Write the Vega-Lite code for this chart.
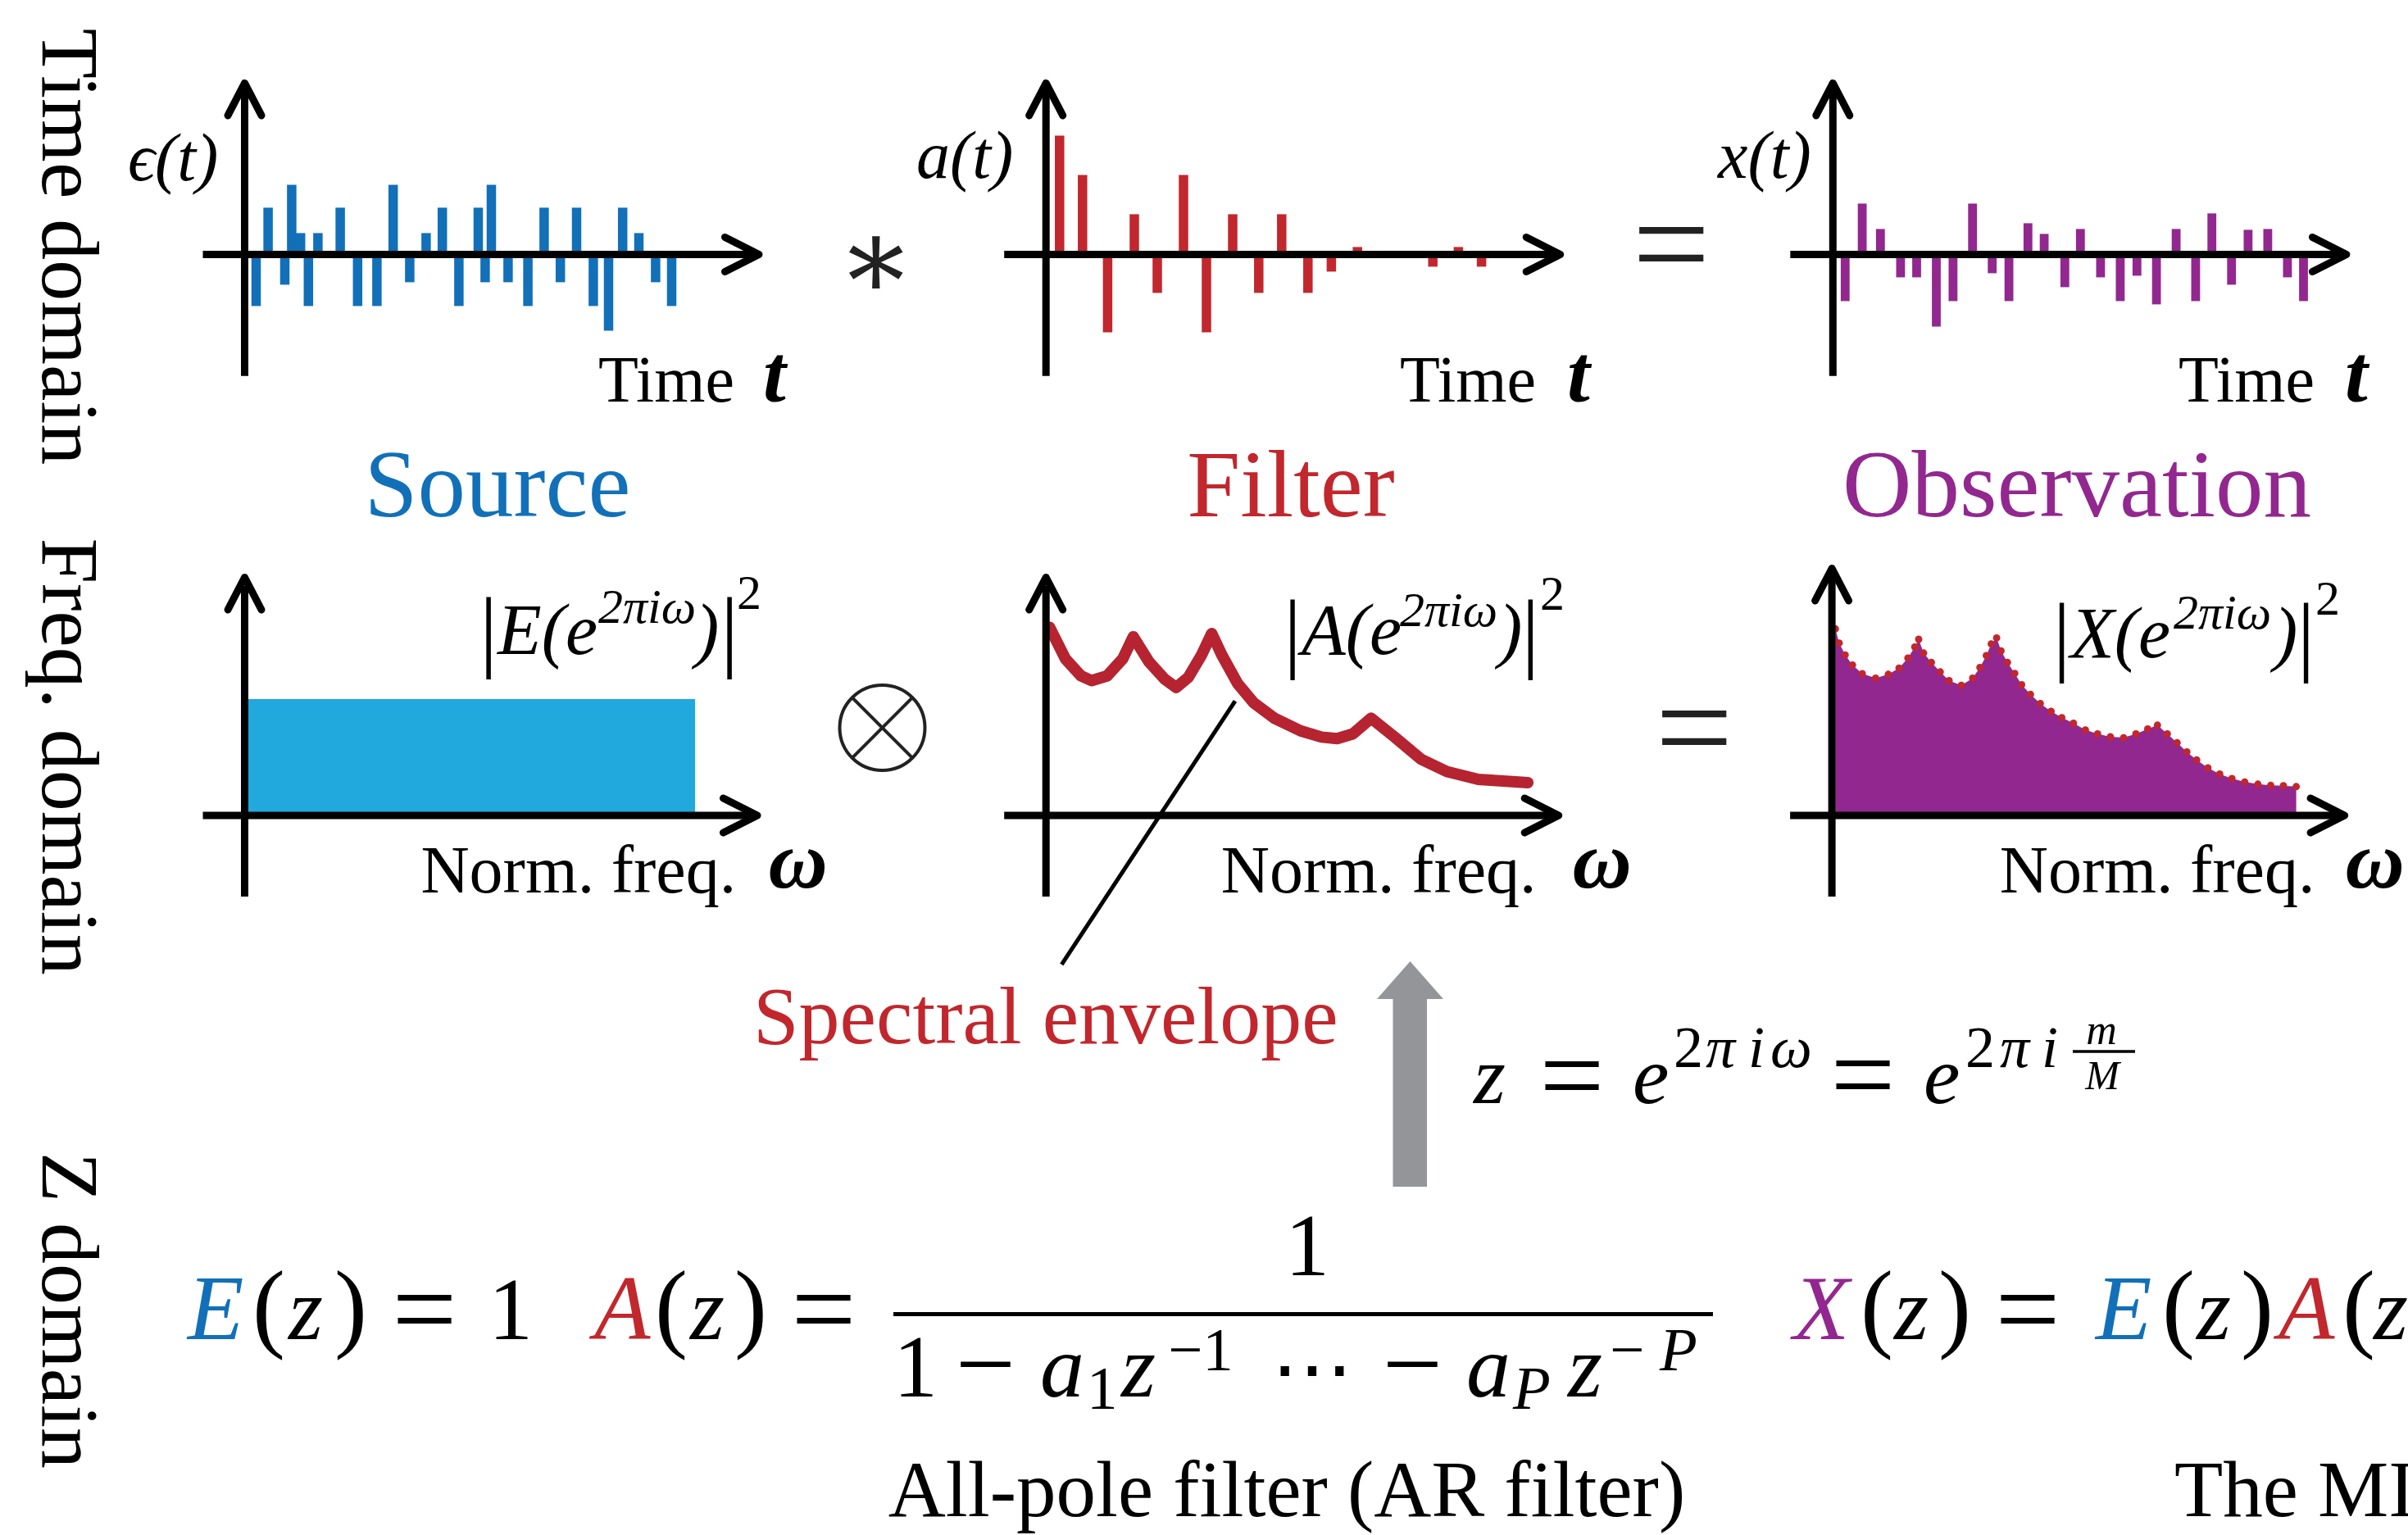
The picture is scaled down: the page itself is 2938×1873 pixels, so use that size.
{
"$schema":"https://vega.github.io/schema/vega-lite/v6.json",
"width":2938,"height":1873,"autosize":{"type":"none"},"padding":0,"background":"#ffffff",
"config":{"view":{"stroke":null},"axis":{"disable":true},"text":{"font":"Liberation Serif","baseline":"alphabetic","align":"left","color":"#000000"}},
"data":{"values":[{}]},
"datasets":{
"src":[{"t":0.7,"a":-0.63},{"t":1.43,"a":0.57},{"t":2.45,"a":-0.37},{"t":2.87,"a":0.85},{"t":3.41,"a":0.26},{"t":3.89,"a":-0.63},{"t":4.47,"a":0.26},{"t":5.83,"a":0.57},{"t":6.89,"a":-0.63},{"t":8.07,"a":-0.63},{"t":9.06,"a":0.85},{"t":10.07,"a":-0.34},{"t":11.07,"a":0.26},{"t":12.06,"a":0.57},{"t":13.07,"a":-0.63},{"t":14.25,"a":0.57},{"t":14.67,"a":-0.34},{"t":15.05,"a":0.85},{"t":16.07,"a":-0.34},{"t":17.28,"a":-0.63},{"t":18.27,"a":0.57},{"t":19.26,"a":-0.34},{"t":20.25,"a":0.57},{"t":21.27,"a":-0.63},{"t":22.2,"a":-0.93},{"t":23.06,"a":0.57},{"t":24.05,"a":0.26},{"t":25.07,"a":-0.34},{"t":26.05,"a":-0.63}],
"filt":[{"t":0.83,"a":1.45},{"t":2.23,"a":0.97},{"t":3.76,"a":-0.95},{"t":5.39,"a":0.49},{"t":6.79,"a":-0.47},{"t":8.39,"a":0.97},{"t":9.79,"a":-0.95},{"t":11.39,"a":0.49},{"t":12.98,"a":-0.47},{"t":14.38,"a":0.49},{"t":15.98,"a":-0.47},{"t":17.41,"a":-0.21},{"t":19.0,"a":0.09},{"t":23.6,"a":-0.15},{"t":25.16,"a":0.09},{"t":26.57,"a":-0.15}],
"obs":[{"t":0.75,"a":-0.57},{"t":1.79,"a":0.62},{"t":2.9,"a":0.31},{"t":4.13,"a":-0.28},{"t":5.11,"a":-0.28},{"t":6.31,"a":-0.88},{"t":7.33,"a":-0.57},{"t":8.52,"a":0.62},{"t":9.72,"a":-0.23},{"t":10.74,"a":-0.57},{"t":11.9,"a":0.38},{"t":12.89,"a":0.25},{"t":14.15,"a":-0.4},{"t":15.1,"a":0.31},{"t":16.33,"a":-0.28},{"t":17.53,"a":-0.57},{"t":18.55,"a":-0.26},{"t":19.74,"a":-0.61},{"t":20.94,"a":0.31},{"t":22.13,"a":-0.57},{"t":23.12,"a":0.5},{"t":24.32,"a":-0.37},{"t":25.33,"a":0.3},{"t":26.53,"a":0.31},{"t":27.73,"a":-0.28},{"t":28.71,"a":-0.57}],
"srcSpec":[{"w":0,"p":1.42},{"w":0.916,"p":1.42}],
"env":[{"w":0.0073,"p":2.296},{"w":0.0393,"p":1.913},{"w":0.0712,"p":1.703},{"w":0.0925,"p":1.645},{"w":0.1243,"p":1.703},{"w":0.1562,"p":1.913},{"w":0.1775,"p":2.181},{"w":0.2093,"p":1.875},{"w":0.2413,"p":1.664},{"w":0.2647,"p":1.561},{"w":0.2892,"p":1.683},{"w":0.3157,"p":1.951},{"w":0.337,"p":2.219},{"w":0.3582,"p":1.951},{"w":0.39,"p":1.607},{"w":0.422,"p":1.377},{"w":0.4645,"p":1.186},{"w":0.5177,"p":1.033},{"w":0.5602,"p":0.956},{"w":0.592,"p":0.937},{"w":0.624,"p":0.995},{"w":0.6612,"p":1.186},{"w":0.709,"p":0.956},{"w":0.7622,"p":0.688},{"w":0.8153,"p":0.535},{"w":0.879,"p":0.44},{"w":0.98,"p":0.401}],
"obsSpec":[{"w":0.007,"p":2.277},{"w":0.0148,"p":2.104},{"w":0.027,"p":1.959},{"w":0.0418,"p":1.836},{"w":0.0618,"p":1.73},{"w":0.0887,"p":1.676},{"w":0.1147,"p":1.722},{"w":0.1365,"p":1.798},{"w":0.1545,"p":1.921},{"w":0.1685,"p":2.055},{"w":0.1765,"p":2.15},{"w":0.1865,"p":1.982},{"w":0.2023,"p":1.867},{"w":0.2203,"p":1.752},{"w":0.2383,"p":1.645},{"w":0.2632,"p":1.588},{"w":0.2862,"p":1.676},{"w":0.301,"p":1.806},{"w":0.314,"p":1.951},{"w":0.324,"p":2.093},{"w":0.335,"p":2.166},{"w":0.344,"p":2.009},{"w":0.357,"p":1.867},{"w":0.3718,"p":1.733},{"w":0.3858,"p":1.595},{"w":0.4038,"p":1.477},{"w":0.4237,"p":1.366},{"w":0.4457,"p":1.27},{"w":0.4675,"p":1.194},{"w":0.4912,"p":1.125},{"w":0.5155,"p":1.044},{"w":0.5403,"p":0.995},{"w":0.5663,"p":0.96},{"w":0.5932,"p":0.949},{"w":0.6182,"p":0.995},{"w":0.6422,"p":1.056},{"w":0.662,"p":1.102},{"w":0.682,"p":0.995},{"w":0.702,"p":0.887},{"w":0.7218,"p":0.776},{"w":0.7418,"p":0.677},{"w":0.7647,"p":0.581},{"w":0.7887,"p":0.505},{"w":0.8135,"p":0.451},{"w":0.8395,"p":0.409},{"w":0.8663,"p":0.382},{"w":0.8923,"p":0.367},{"w":0.9182,"p":0.363},{"w":0.9442,"p":0.352}]
},
"resolve":{"scale":{"x":"independent","y":"independent","size":"independent"}},
"layer":[
{"layer":[
{"data":{"name":"src"},"mark":{"type":"rule","strokeWidth":11.5,"color":"#1170B8"},"encoding":{"x":{"field":"t","type":"quantitative","scale":{"domain":[-5,35],"range":[198.5,998.5],"nice":false,"zero":false}},"y":{"field":"a","type":"quantitative","scale":{"domain":[-2,3],"range":[510.4,10.4],"nice":false,"zero":false}},"y2":{"datum":0}}},
{"mark":{"type":"rule","strokeWidth":9,"color":"#000"},"encoding":{"x":{"datum":-2.55},"x2":{"datum":31.2},"y":{"datum":0}}},
{"mark":{"type":"rule","strokeWidth":9,"color":"#000"},"encoding":{"x":{"datum":0},"y":{"datum":-1.483},"y2":{"datum":2.0}}},
{"mark":{"type":"point","shape":"M-1,-0.506L0,0L-1,0.506","size":6889,"filled":false,"color":"#000","strokeWidth":9,"strokeJoin":"round","strokeCap":"round","opacity":1},"encoding":{"x":{"datum":31.375},"y":{"datum":0}}},
{"mark":{"type":"point","shape":"M-0.494,0.952L0,0L0.494,0.952","size":6889,"filled":false,"color":"#000","strokeWidth":9,"strokeJoin":"round","strokeCap":"round","opacity":1},"encoding":{"x":{"datum":0},"y":{"datum":2.09}}}
]},
{"layer":[
{"data":{"name":"filt"},"mark":{"type":"rule","strokeWidth":11.5,"color":"#C1272D"},"encoding":{"x":{"field":"t","type":"quantitative","scale":{"domain":[-5,35],"range":[1176.2,1976.2],"nice":false,"zero":false}},"y":{"field":"a","type":"quantitative","scale":{"domain":[-2,3],"range":[510.4,10.4],"nice":false,"zero":false}},"y2":{"datum":0}}},
{"mark":{"type":"rule","strokeWidth":9,"color":"#000"},"encoding":{"x":{"datum":-2.55},"x2":{"datum":31.2},"y":{"datum":0}}},
{"mark":{"type":"rule","strokeWidth":9,"color":"#000"},"encoding":{"x":{"datum":0},"y":{"datum":-1.483},"y2":{"datum":2.0}}},
{"mark":{"type":"point","shape":"M-1,-0.506L0,0L-1,0.506","size":6889,"filled":false,"color":"#000","strokeWidth":9,"strokeJoin":"round","strokeCap":"round","opacity":1},"encoding":{"x":{"datum":31.375},"y":{"datum":0}}},
{"mark":{"type":"point","shape":"M-0.494,0.952L0,0L0.494,0.952","size":6889,"filled":false,"color":"#000","strokeWidth":9,"strokeJoin":"round","strokeCap":"round","opacity":1},"encoding":{"x":{"datum":0},"y":{"datum":2.09}}}
]},
{"layer":[
{"data":{"name":"obs"},"mark":{"type":"rule","strokeWidth":10.8,"color":"#92278F"},"encoding":{"x":{"field":"t","type":"quantitative","scale":{"domain":[-5,35],"range":[2136.3,2936.3],"nice":false,"zero":false}},"y":{"field":"a","type":"quantitative","scale":{"domain":[-2,3],"range":[510.4,10.4],"nice":false,"zero":false}},"y2":{"datum":0}}},
{"mark":{"type":"rule","strokeWidth":9,"color":"#000"},"encoding":{"x":{"datum":-2.6},"x2":{"datum":31.2},"y":{"datum":0}}},
{"mark":{"type":"rule","strokeWidth":9,"color":"#000"},"encoding":{"x":{"datum":0},"y":{"datum":-1.483},"y2":{"datum":2.0}}},
{"mark":{"type":"point","shape":"M-1,-0.506L0,0L-1,0.506","size":6889,"filled":false,"color":"#000","strokeWidth":9,"strokeJoin":"round","strokeCap":"round","opacity":1},"encoding":{"x":{"datum":31.33},"y":{"datum":0}}},
{"mark":{"type":"point","shape":"M-0.494,0.952L0,0L0.494,0.952","size":6889,"filled":false,"color":"#000","strokeWidth":9,"strokeJoin":"round","strokeCap":"round","opacity":1},"encoding":{"x":{"datum":0},"y":{"datum":2.09}}}
]},
{"layer":[
{"data":{"name":"srcSpec"},"mark":{"type":"area","color":"#21A8DD","opacity":1},"encoding":{"x":{"field":"w","type":"quantitative","scale":{"domain":[-0.5,1.5],"range":[-1.5,1198.5],"nice":false,"zero":false}},"y":{"field":"p","type":"quantitative","scale":{"domain":[-2,4],"range":[1195,595],"nice":false,"zero":false}},"y2":{"datum":0}}},
{"mark":{"type":"rule","strokeWidth":9,"color":"#000"},"encoding":{"x":{"datum":-0.085},"x2":{"datum":1.035},"y":{"datum":0}}},
{"mark":{"type":"rule","strokeWidth":9,"color":"#000"},"encoding":{"x":{"datum":0},"y":{"datum":-0.99},"y2":{"datum":2.8}}},
{"mark":{"type":"point","shape":"M-1,-0.506L0,0L-1,0.506","size":6889,"filled":false,"color":"#000","strokeWidth":9,"strokeJoin":"round","strokeCap":"round","opacity":1},"encoding":{"x":{"datum":1.0425},"y":{"datum":0}}},
{"mark":{"type":"point","shape":"M-0.494,0.952L0,0L0.494,0.952","size":6889,"filled":false,"color":"#000","strokeWidth":9,"strokeJoin":"round","strokeCap":"round","opacity":1},"encoding":{"x":{"datum":0},"y":{"datum":2.905}}}
]},
{"layer":[
{"data":{"name":"env"},"mark":{"type":"line","color":"#B52430","strokeWidth":14,"strokeCap":"round","strokeJoin":"round"},"encoding":{"x":{"field":"w","type":"quantitative","scale":{"domain":[-0.5,1.5],"range":[976.2,2176.2],"nice":false,"zero":false}},"y":{"field":"p","type":"quantitative","scale":{"domain":[-2,4],"range":[1195,595],"nice":false,"zero":false}},"size":{"value":14}}},
{"mark":{"type":"rule","strokeWidth":9,"color":"#000"},"encoding":{"x":{"datum":-0.085},"x2":{"datum":1.035},"y":{"datum":0}}},
{"mark":{"type":"rule","strokeWidth":9,"color":"#000"},"encoding":{"x":{"datum":0},"y":{"datum":-0.99},"y2":{"datum":2.8}}},
{"mark":{"type":"point","shape":"M-1,-0.506L0,0L-1,0.506","size":6889,"filled":false,"color":"#000","strokeWidth":9,"strokeJoin":"round","strokeCap":"round","opacity":1},"encoding":{"x":{"datum":1.0425},"y":{"datum":0}}},
{"mark":{"type":"point","shape":"M-0.494,0.952L0,0L0.494,0.952","size":6889,"filled":false,"color":"#000","strokeWidth":9,"strokeJoin":"round","strokeCap":"round","opacity":1},"encoding":{"x":{"datum":0},"y":{"datum":2.905}}}
]},
{"layer":[
{"data":{"name":"obsSpec"},"mark":{"type":"area","color":"#92278F","opacity":1},"encoding":{"x":{"field":"w","type":"quantitative","scale":{"domain":[-0.5,1.5],"range":[1935.1,3135.1],"nice":false,"zero":false}},"y":{"field":"p","type":"quantitative","scale":{"domain":[-2,4],"range":[1195,595],"nice":false,"zero":false}},"y2":{"datum":0}}},
{"data":{"name":"obsSpec"},"mark":{"type":"point","shape":"circle","size":80,"filled":true,"color":"#C1272D","opacity":1},"encoding":{"x":{"field":"w","type":"quantitative"},"y":{"field":"p","type":"quantitative"}}},
{"mark":{"type":"rule","strokeWidth":9,"color":"#000"},"encoding":{"x":{"datum":-0.085},"x2":{"datum":1.035},"y":{"datum":0}}},
{"mark":{"type":"rule","strokeWidth":9,"color":"#000"},"encoding":{"x":{"datum":0},"y":{"datum":-0.99},"y2":{"datum":2.92}}},
{"mark":{"type":"point","shape":"M-1,-0.506L0,0L-1,0.506","size":6889,"filled":false,"color":"#000","strokeWidth":9,"strokeJoin":"round","strokeCap":"round","opacity":1},"encoding":{"x":{"datum":1.0425},"y":{"datum":0}}},
{"mark":{"type":"point","shape":"M-0.494,0.952L0,0L0.494,0.952","size":6889,"filled":false,"color":"#000","strokeWidth":9,"strokeJoin":"round","strokeCap":"round","opacity":1},"encoding":{"x":{"datum":0},"y":{"datum":3.015}}}
]},
{"layer":[
{"mark":{"type":"text","text":"Time domain","fontSize":100,"align":"center","angle":90},"encoding":{"x":{"datum":52,"type":"quantitative","scale":{"domain":[0,2938],"range":[0,2938],"nice":false,"zero":false}},"y":{"datum":301,"type":"quantitative","scale":{"domain":[0,1873],"range":[0,1873],"nice":false,"zero":false}}}},
{"mark":{"type":"text","text":"Freq. domain","fontSize":100,"align":"center","angle":90},"encoding":{"x":{"datum":52},"y":{"datum":923}}},
{"mark":{"type":"text","text":"Z domain","fontSize":100,"align":"center","angle":90},"encoding":{"x":{"datum":52},"y":{"datum":1599}}},
{"mark":{"type":"text","text":"ϵ(t)","fontSize":82,"fontStyle":"italic"},"encoding":{"x":{"datum":156},"y":{"datum":220}}},
{"mark":{"type":"text","text":"a(t)","fontSize":82,"fontStyle":"italic"},"encoding":{"x":{"datum":1118},"y":{"datum":217}}},
{"mark":{"type":"text","text":"x(t)","fontSize":82,"fontStyle":"italic"},"encoding":{"x":{"datum":2096},"y":{"datum":217}}},
{"mark":{"type":"text","text":"Time","fontSize":80},"encoding":{"x":{"datum":730},"y":{"datum":490}}},
{"mark":{"type":"text","text":"Time","fontSize":80},"encoding":{"x":{"datum":1708},"y":{"datum":490}}},
{"mark":{"type":"text","text":"Time","fontSize":80},"encoding":{"x":{"datum":2658},"y":{"datum":490}}},
{"mark":{"type":"text","text":"t","fontSize":100,"fontStyle":"italic","fontWeight":"bold"},"encoding":{"x":{"datum":931},"y":{"datum":490}}},
{"mark":{"type":"text","text":"t","fontSize":100,"fontStyle":"italic","fontWeight":"bold"},"encoding":{"x":{"datum":1912},"y":{"datum":490}}},
{"mark":{"type":"text","text":"t","fontSize":100,"fontStyle":"italic","fontWeight":"bold"},"encoding":{"x":{"datum":2861},"y":{"datum":490}}},
{"mark":{"type":"text","text":"Source","fontSize":117,"align":"center","color":"#1170B8"},"encoding":{"x":{"datum":607},"y":{"datum":630}}},
{"mark":{"type":"text","text":"Filter","fontSize":117,"align":"center","color":"#C1272D"},"encoding":{"x":{"datum":1575},"y":{"datum":630}}},
{"mark":{"type":"text","text":"Observation","fontSize":117,"align":"center","color":"#92278F"},"encoding":{"x":{"datum":2534},"y":{"datum":630}}},
{"mark":{"type":"text","text":"∗","font":"DejaVu Serif","fontSize":140,"align":"center","color":"#222"},"encoding":{"x":{"datum":1068.5},"y":{"datum":364}}},
{"mark":{"type":"text","text":"=","fontSize":168,"align":"center","color":"#222"},"encoding":{"x":{"datum":2039},"y":{"datum":354}}},
{"mark":{"type":"text","text":"=","fontSize":168,"align":"center","color":"#222"},"encoding":{"x":{"datum":2067},"y":{"datum":944}}},
{"mark":{"type":"text","text":"|","fontSize":111,"align":"center"},"encoding":{"x":{"datum":596},"y":{"datum":805.6}}},
{"mark":{"type":"text","text":"E(e","fontSize":88,"fontStyle":"italic"},"encoding":{"x":{"datum":607},"y":{"datum":798}}},
{"mark":{"type":"text","text":"2πiω","fontSize":60,"fontStyle":"italic"},"encoding":{"x":{"datum":730},"y":{"datum":760}}},
{"mark":{"type":"text","text":")","fontSize":88,"fontStyle":"italic"},"encoding":{"x":{"datum":848},"y":{"datum":798}}},
{"mark":{"type":"text","text":"|","fontSize":111,"align":"center"},"encoding":{"x":{"datum":890},"y":{"datum":805.6}}},
{"mark":{"type":"text","text":"2","fontSize":60},"encoding":{"x":{"datum":899},"y":{"datum":742.5}}},
{"mark":{"type":"text","text":"|","fontSize":108,"align":"center"},"encoding":{"x":{"datum":1577},"y":{"datum":807}}},
{"mark":{"type":"text","text":"A(e","fontSize":88,"fontStyle":"italic"},"encoding":{"x":{"datum":1588},"y":{"datum":798}}},
{"mark":{"type":"text","text":"2πiω","fontSize":60,"fontStyle":"italic"},"encoding":{"x":{"datum":1708},"y":{"datum":763.5}}},
{"mark":{"type":"text","text":")","fontSize":88,"fontStyle":"italic"},"encoding":{"x":{"datum":1828},"y":{"datum":798}}},
{"mark":{"type":"text","text":"|","fontSize":108,"align":"center"},"encoding":{"x":{"datum":1867.4},"y":{"datum":807}}},
{"mark":{"type":"text","text":"2","fontSize":60},"encoding":{"x":{"datum":1879},"y":{"datum":744}}},
{"mark":{"type":"text","text":"|","fontSize":108,"align":"center"},"encoding":{"x":{"datum":2515.6},"y":{"datum":811}}},
{"mark":{"type":"text","text":"X(e","fontSize":88,"fontStyle":"italic"},"encoding":{"x":{"datum":2526},"y":{"datum":801.8}}},
{"mark":{"type":"text","text":"2πiω","fontSize":60,"fontStyle":"italic"},"encoding":{"x":{"datum":2652},"y":{"datum":767}}},
{"mark":{"type":"text","text":")","fontSize":88,"fontStyle":"italic"},"encoding":{"x":{"datum":2774},"y":{"datum":801.8}}},
{"mark":{"type":"text","text":"|","fontSize":108,"align":"center"},"encoding":{"x":{"datum":2813.5},"y":{"datum":811}}},
{"mark":{"type":"text","text":"2","fontSize":60},"encoding":{"x":{"datum":2825},"y":{"datum":750}}},
{"mark":{"type":"text","text":"Norm. freq.","fontSize":82},"encoding":{"x":{"datum":513.4},"y":{"datum":1089}}},
{"mark":{"type":"text","text":"Norm. freq.","fontSize":82},"encoding":{"x":{"datum":1489.8},"y":{"datum":1089}}},
{"mark":{"type":"text","text":"Norm. freq.","fontSize":82},"encoding":{"x":{"datum":2439.7},"y":{"datum":1089}}},
{"mark":{"type":"text","text":"ω","fontSize":100,"fontStyle":"italic","fontWeight":"bold"},"encoding":{"x":{"datum":937.6},"y":{"datum":1083}}},
{"mark":{"type":"text","text":"ω","fontSize":100,"fontStyle":"italic","fontWeight":"bold"},"encoding":{"x":{"datum":1918.4},"y":{"datum":1083}}},
{"mark":{"type":"text","text":"ω","fontSize":100,"fontStyle":"italic","fontWeight":"bold"},"encoding":{"x":{"datum":2861.4},"y":{"datum":1083}}},
{"mark":{"type":"rule","strokeWidth":5,"color":"#000"},"encoding":{"x":{"datum":1507},"y":{"datum":855.4},"x2":{"datum":1295.3},"y2":{"datum":1176.8}}},
{"mark":{"type":"point","shape":"circle","size":10816,"filled":false,"color":"#222","strokeWidth":4,"opacity":1},"encoding":{"x":{"datum":1076.5},"y":{"datum":888}}},
{"mark":{"type":"rule","strokeWidth":4,"color":"#222"},"encoding":{"x":{"datum":1039.7},"y":{"datum":851.2},"x2":{"datum":1113.3},"y2":{"datum":924.8}}},
{"mark":{"type":"rule","strokeWidth":4,"color":"#222"},"encoding":{"x":{"datum":1039.7},"y":{"datum":924.8},"x2":{"datum":1113.3},"y2":{"datum":851.2}}},
{"mark":{"type":"text","text":"Spectral envelope","fontSize":100,"color":"#C1272D"},"encoding":{"x":{"datum":919},"y":{"datum":1273}}},
{"mark":{"type":"rect","color":"#939598"},"encoding":{"x":{"datum":1699.5},"x2":{"datum":1741},"y":{"datum":1217},"y2":{"datum":1448}}},
{"mark":{"type":"point","shape":"M-1,0.568L0,-0.568L1,0.568Z","size":6561,"filled":true,"color":"#939598","opacity":1},"encoding":{"x":{"datum":1720.5},"y":{"datum":1196}}},
{"mark":{"type":"text","text":"z","fontSize":100,"fontStyle":"italic"},"encoding":{"x":{"datum":1798},"y":{"datum":1346}}},
{"mark":{"type":"text","text":"=","fontSize":140,"align":"center"},"encoding":{"x":{"datum":1918},"y":{"datum":1359}}},
{"mark":{"type":"text","text":"e","fontSize":100,"fontStyle":"italic"},"encoding":{"x":{"datum":1992},"y":{"datum":1346}}},
{"mark":{"type":"text","text":"2","fontSize":72},"encoding":{"x":{"datum":2042},"y":{"datum":1302}}},
{"mark":{"type":"text","text":"π","fontSize":72,"fontStyle":"italic"},"encoding":{"x":{"datum":2081},"y":{"datum":1302}}},
{"mark":{"type":"text","text":"i","fontSize":72,"fontStyle":"italic"},"encoding":{"x":{"datum":2133},"y":{"datum":1302}}},
{"mark":{"type":"text","text":"ω","fontSize":72,"fontStyle":"italic"},"encoding":{"x":{"datum":2160},"y":{"datum":1302}}},
{"mark":{"type":"text","text":"=","fontSize":140,"align":"center"},"encoding":{"x":{"datum":2273},"y":{"datum":1358}}},
{"mark":{"type":"text","text":"e","fontSize":100,"fontStyle":"italic"},"encoding":{"x":{"datum":2347},"y":{"datum":1346}}},
{"mark":{"type":"text","text":"2","fontSize":72},"encoding":{"x":{"datum":2398},"y":{"datum":1302}}},
{"mark":{"type":"text","text":"π","fontSize":72,"fontStyle":"italic"},"encoding":{"x":{"datum":2440},"y":{"datum":1302}}},
{"mark":{"type":"text","text":"i","fontSize":72,"fontStyle":"italic"},"encoding":{"x":{"datum":2491},"y":{"datum":1302}}},
{"mark":{"type":"text","text":"m","fontSize":52,"fontStyle":"italic","align":"center"},"encoding":{"x":{"datum":2564},"y":{"datum":1274}}},
{"mark":{"type":"text","text":"M","fontSize":50,"fontStyle":"italic","align":"center"},"encoding":{"x":{"datum":2565},"y":{"datum":1329}}},
{"mark":{"type":"rule","strokeWidth":3.5,"color":"#000"},"encoding":{"x":{"datum":2529},"x2":{"datum":2605},"y":{"datum":1283}}},
{"mark":{"type":"text","text":"E","fontSize":112,"fontStyle":"italic","color":"#1170B8"},"encoding":{"x":{"datum":229},"y":{"datum":1633.5}}},
{"mark":{"type":"text","text":"(","fontSize":120},"encoding":{"x":{"datum":308},"y":{"datum":1633.5}}},
{"mark":{"type":"text","text":"z","fontSize":108,"fontStyle":"italic"},"encoding":{"x":{"datum":352},"y":{"datum":1633.5}}},
{"mark":{"type":"text","text":")","fontSize":120},"encoding":{"x":{"datum":408},"y":{"datum":1633.5}}},
{"mark":{"type":"text","text":"=","fontSize":140,"align":"center"},"encoding":{"x":{"datum":518},"y":{"datum":1644}}},
{"mark":{"type":"text","text":"1","fontSize":108},"encoding":{"x":{"datum":596},"y":{"datum":1633.5}}},
{"mark":{"type":"text","text":"A","fontSize":112,"fontStyle":"italic","color":"#C1272D"},"encoding":{"x":{"datum":725},"y":{"datum":1633.5}}},
{"mark":{"type":"text","text":"(","fontSize":120},"encoding":{"x":{"datum":799},"y":{"datum":1633.5}}},
{"mark":{"type":"text","text":"z","fontSize":108,"fontStyle":"italic"},"encoding":{"x":{"datum":842},"y":{"datum":1633.5}}},
{"mark":{"type":"text","text":")","fontSize":120},"encoding":{"x":{"datum":896},"y":{"datum":1633.5}}},
{"mark":{"type":"text","text":"=","fontSize":140,"align":"center"},"encoding":{"x":{"datum":1005},"y":{"datum":1644}}},
{"mark":{"type":"text","text":"1","fontSize":108},"encoding":{"x":{"datum":1568},"y":{"datum":1556}}},
{"mark":{"type":"rule","strokeWidth":5,"color":"#000"},"encoding":{"x":{"datum":1090},"x2":{"datum":2090},"y":{"datum":1603.4}}},
{"mark":{"type":"text","text":"1","fontSize":108},"encoding":{"x":{"datum":1090},"y":{"datum":1704}}},
{"mark":{"type":"text","text":"−","fontSize":130,"align":"center"},"encoding":{"x":{"datum":1202.5},"y":{"datum":1708}}},
{"mark":{"type":"text","text":"a","fontSize":108,"fontStyle":"italic"},"encoding":{"x":{"datum":1269},"y":{"datum":1704}}},
{"mark":{"type":"text","text":"1","fontSize":75},"encoding":{"x":{"datum":1326},"y":{"datum":1719}}},
{"mark":{"type":"text","text":"z","fontSize":108,"fontStyle":"italic"},"encoding":{"x":{"datum":1368},"y":{"datum":1704}}},
{"mark":{"type":"text","text":"−1","fontSize":75},"encoding":{"x":{"datum":1425},"y":{"datum":1672}}},
{"mark":{"type":"text","text":"⋯","font":"DejaVu Serif","fontSize":100,"align":"center"},"encoding":{"x":{"datum":1601},"y":{"datum":1704}}},
{"mark":{"type":"text","text":"−","fontSize":130,"align":"center"},"encoding":{"x":{"datum":1723.5},"y":{"datum":1708}}},
{"mark":{"type":"text","text":"a","fontSize":108,"fontStyle":"italic"},"encoding":{"x":{"datum":1789},"y":{"datum":1704}}},
{"mark":{"type":"text","text":"P","fontSize":75,"fontStyle":"italic"},"encoding":{"x":{"datum":1846},"y":{"datum":1719}}},
{"mark":{"type":"text","text":"z","fontSize":108,"fontStyle":"italic"},"encoding":{"x":{"datum":1913},"y":{"datum":1704}}},
{"mark":{"type":"text","text":"−","fontSize":75},"encoding":{"x":{"datum":1964},"y":{"datum":1672}}},
{"mark":{"type":"text","text":"P","fontSize":75,"fontStyle":"italic"},"encoding":{"x":{"datum":2025},"y":{"datum":1672}}},
{"mark":{"type":"text","text":"X","fontSize":112,"fontStyle":"italic","color":"#92278F"},"encoding":{"x":{"datum":2188},"y":{"datum":1633.5}}},
{"mark":{"type":"text","text":"(","fontSize":120},"encoding":{"x":{"datum":2270},"y":{"datum":1633.5}}},
{"mark":{"type":"text","text":"z","fontSize":108,"fontStyle":"italic"},"encoding":{"x":{"datum":2311},"y":{"datum":1633.5}}},
{"mark":{"type":"text","text":")","fontSize":120},"encoding":{"x":{"datum":2365},"y":{"datum":1633.5}}},
{"mark":{"type":"text","text":"=","fontSize":140,"align":"center"},"encoding":{"x":{"datum":2474},"y":{"datum":1644}}},
{"mark":{"type":"text","text":"E","fontSize":112,"fontStyle":"italic","color":"#1170B8"},"encoding":{"x":{"datum":2557},"y":{"datum":1633.5}}},
{"mark":{"type":"text","text":"(","fontSize":120},"encoding":{"x":{"datum":2638},"y":{"datum":1633.5}}},
{"mark":{"type":"text","text":"z","fontSize":108,"fontStyle":"italic"},"encoding":{"x":{"datum":2680},"y":{"datum":1633.5}}},
{"mark":{"type":"text","text":")","fontSize":120},"encoding":{"x":{"datum":2734},"y":{"datum":1633.5}}},
{"mark":{"type":"text","text":"A","fontSize":112,"fontStyle":"italic","color":"#C1272D"},"encoding":{"x":{"datum":2780},"y":{"datum":1633.5}}},
{"mark":{"type":"text","text":"(","fontSize":120},"encoding":{"x":{"datum":2858},"y":{"datum":1633.5}}},
{"mark":{"type":"text","text":"z","fontSize":108,"fontStyle":"italic"},"encoding":{"x":{"datum":2896},"y":{"datum":1633.5}}},
{"mark":{"type":"text","text":"All-pole filter (AR filter)","fontSize":97,"align":"center"},"encoding":{"x":{"datum":1570},"y":{"datum":1850}}},
{"mark":{"type":"text","text":"The MI","fontSize":97},"encoding":{"x":{"datum":2653},"y":{"datum":1850}}}
]}
]
}
